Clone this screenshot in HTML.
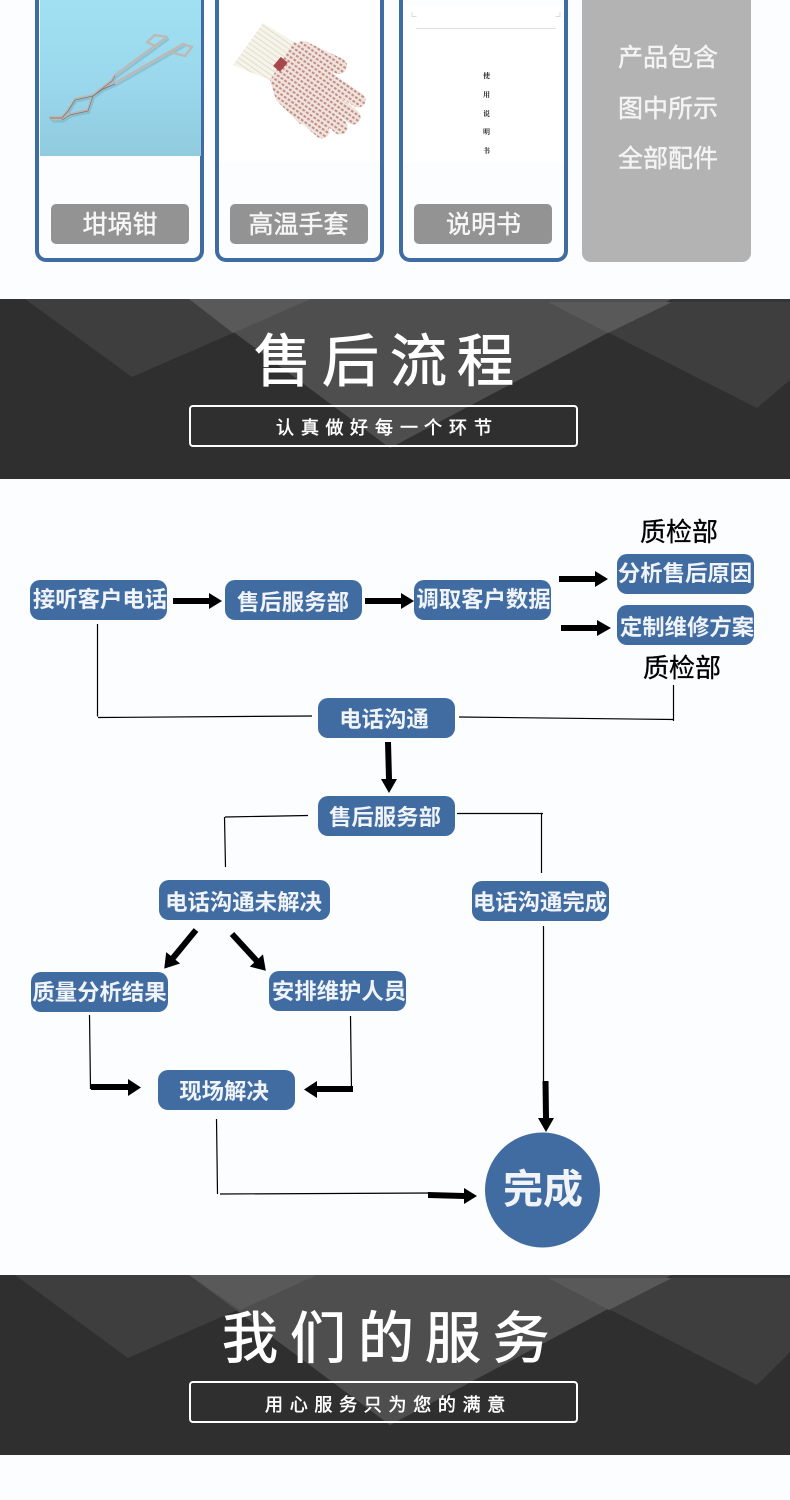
<!DOCTYPE html>
<html><head><meta charset="utf-8">
<style>
html,body{margin:0;padding:0;background:#fbfdfe}
svg{display:block}
text{font-family:"Liberation Sans","Noto Sans CJK SC",sans-serif}
.n{font-size:22.4px;font-weight:700;fill:#f0f3f8;text-anchor:middle}
.b{font-size:25px;fill:#f6f6f6;stroke:#f6f6f6;stroke-width:.45;text-anchor:middle}
.p{font-size:25px;fill:#f4f4f4;stroke:#f4f4f4;stroke-width:.45;text-anchor:middle}
.q{font-size:26px;fill:#000;stroke:#000;stroke-width:.3;text-anchor:middle}
.t{fill:#fff;stroke:#fff;stroke-width:.9}
.s{fill:#fff;stroke:#fff;stroke-width:.5}
.l{stroke:#000;stroke-width:1.2;fill:none}
</style></head><body>
<svg xmlns="http://www.w3.org/2000/svg" width="790" height="1500" viewBox="0 0 790 1500">
<defs>
<linearGradient id="sky" x1="0" y1="0" x2="0" y2="1"><stop offset="0" stop-color="#a1e0f3"/><stop offset=".55" stop-color="#9ad7ec"/><stop offset="1" stop-color="#90cbdf"/></linearGradient>
<pattern id="dots" width="4.5" height="4.5" patternUnits="userSpaceOnUse" patternTransform="rotate(35)"><rect width="4.5" height="4.5" fill="#f0e4dd"/><rect x="0" y="0.6" width="2.8" height="2" fill="#c08b82"/></pattern>
<pattern id="rib" width="4.5" height="4.5" patternUnits="userSpaceOnUse" patternTransform="rotate(35)"><rect width="4.5" height="4.5" fill="#f6f4e9"/><rect y="0" width="4.5" height="1" fill="#e0decf"/></pattern>
</defs>
<rect width="790" height="1500" fill="#fbfdfe"/>

<!-- product cards -->
<rect x="37" y="-12" width="165" height="272" rx="9" fill="#fcfdff" stroke="#3f6da3" stroke-width="4"/>
<rect x="217" y="-12" width="165" height="272" rx="9" fill="#fcfdff" stroke="#3f6da3" stroke-width="4"/>
<rect x="401" y="-12" width="165" height="272" rx="9" fill="#fcfdff" stroke="#3f6da3" stroke-width="4"/>
<rect x="582" y="-12" width="169" height="274" rx="9" fill="#b3b3b3"/>
<rect x="40" y="0" width="161" height="156" fill="url(#sky)"/>
<rect x="219" y="0" width="161" height="162" fill="#fff"/>
<rect x="403" y="5" width="161" height="158" fill="#fff"/>

<!-- tongs -->
<g fill="none" stroke-linejoin="round" stroke-linecap="round">
<g stroke="#7fb2c6" stroke-width="2.4" opacity=".6" transform="translate(1,2.5)">
<path d="M167 37L115 75L112 80L93 95L75 99L68 110L62 117L50 117"/>
<path d="M183 44L115 83L103 88L93 95L88 110L70 114L62 119L52 119"/>
</g>
<g stroke="#bdb8b4" stroke-width="2.3">
<path d="M157 47L147 42L155 35L167 37L115 75L112 80L93 95L75 99L68 110L62 117L50 117"/>
<path d="M170 52L183 44L192 47L185 56L170 52M183 44L115 83L103 88L93 95L88 110L70 114L62 119L52 119"/>
</g>
<g stroke="#77736f" stroke-width=".7">
<path d="M115 76L112 81L93 96L75 100L68 111L62 118L50 118"/>
<path d="M115 84L103 89L93 96L88 111L70 115L62 120"/>
</g>
</g>

<!-- glove -->
<polygon points="233,65 263,23 294,42 270,80 255,74" fill="url(#rib)"/>
<g fill="none" stroke="url(#dots)" stroke-linecap="round">
<path d="M303 49L339 66" stroke-width="16"/>
<path d="M325 78L358 100" stroke-width="15"/>
<path d="M318 90L353 117" stroke-width="15"/>
<path d="M308 100L340 127" stroke-width="15"/>
<path d="M296 108L322 131" stroke-width="15"/>
</g>
<polygon points="294,42 270,80 276,100 300,124 325,122 348,90 322,60" fill="url(#dots)"/>
<rect x="274" y="60" width="12" height="9" fill="#a8474a" transform="rotate(-50 280 64)"/>

<!-- manual -->
<path d="M412 12v4.500h4.500M560 12v4.500h-4.500" fill="none" stroke="#ddd" stroke-width="1"/>
<line x1="416" y1="28.500" x2="556" y2="28.500" stroke="#e0e0e0" stroke-width="1"/>
<g font-size="7" font-weight="700" text-anchor="middle" fill="#222">
<text x="486.500" y="78" style="font-family:'Liberation Serif','Noto Serif CJK SC',serif">使</text>
<text x="486.500" y="97" style="font-family:'Liberation Serif','Noto Serif CJK SC',serif">用</text>
<text x="486.500" y="116" style="font-family:'Liberation Serif','Noto Serif CJK SC',serif">说</text>
<text x="486.500" y="134" style="font-family:'Liberation Serif','Noto Serif CJK SC',serif">明</text>
<text x="486.500" y="153" style="font-family:'Liberation Serif','Noto Serif CJK SC',serif">书</text>
</g>

<rect x="51" y="204" width="138" height="40" rx="5" fill="#939393"/>
<rect x="230" y="204" width="138" height="40" rx="5" fill="#939393"/>
<rect x="414" y="204" width="138" height="40" rx="5" fill="#939393"/>
<text class="b" x="120" y="233">坩埚钳</text>
<text class="b" x="298.500" y="233">高温手套</text>
<text class="b" x="483.500" y="233">说明书</text>
<text class="p" x="668" y="66">产品包含</text>
<text class="p" x="668" y="117">图中所示</text>
<text class="p" x="668" y="167">全部配件</text>

<!-- band 1 -->
<rect x="0" y="299" width="790" height="180" fill="#302f30"/>
<rect x="672" y="299" width="118" height="3" fill="#353435"/>
<polygon points="25,299 311,299 132,377" fill="#3f3e3f"/>
<polygon points="548,302 790,302 790,380 757,408" fill="#3f3e3f"/>
<polygon points="189,299 672,299 390,448" fill="#4f4e4f"/>
<polygon points="189,299 311,299 233,333" fill="#5a595a"/>
<polygon points="548,302 672,302 608,333" fill="#5a595a"/>
<text class="t" font-size="57" x="254 322 390 457" y="381">售后流程</text>
<rect x="190" y="406" width="387" height="40" rx="3" fill="none" stroke="#fff" stroke-width="2"/>
<text class="s" font-size="18" x="276 301 325.500 350 375 400 424 449 474" y="434">认真做好每一个环节</text>

<!-- thin connectors -->
<path class="l" d="M97.500 624V716.500"/>
<path class="l" d="M98 717.500L312 716"/>
<path class="l" d="M459 717L674 719.500"/>
<path class="l" d="M673.500 685V721"/>
<path class="l" d="M225 817L308 815.500"/>
<path class="l" d="M224.500 817L225.500 867"/>
<path class="l" d="M457 813.500H543"/>
<path class="l" d="M541.500 813V873"/>
<path class="l" d="M543.500 926V1085"/>
<path class="l" d="M89.500 1015L90.500 1089"/>
<path class="l" d="M350.500 1016L351.500 1090"/>
<path class="l" d="M216.500 1119L217.500 1194"/>
<path class="l" d="M220 1194L430 1193"/>

<!-- thick arrows -->
<g fill="#000">
<polygon points="173,598 209,598 209,593 222,601 209,609 209,604 173,604"/>
<polygon points="365,598 401,598 401,593 414,601 401,609 401,604 365,604"/>
<polygon points="559,576 595,576 595,571 608,579 595,587 595,582 559,582"/>
<polygon points="561,625 597,625 597,620 611,628 597,636 597,631 561,631"/>
<polygon points="385,742 391,742 392,779 397,779 389,793 381,779 386,779"/>
<polygon points="542.500,1081 548.500,1081 549,1118 554,1118 546,1132 538,1118 543,1118"/>
<polygon points="91,1084 128,1084 128,1079 141,1087.500 128,1096 128,1090 91,1090"/>
<polygon points="353,1086 317,1086 317,1081 304,1089.500 317,1098 317,1092 353,1092"/>
<polygon points="428,1192 464,1193 464,1188 477,1196 464,1204 464,1199 428,1198"/>
<g transform="translate(196,930) rotate(129.400)"><polygon points="0,-3 36,-3 36,-9 50,0 36,9 36,3 0,3"/></g>
<g transform="translate(232,934) rotate(47.400)"><polygon points="0,-3 36,-3 36,-9 50,0 36,9 36,3 0,3"/></g>
</g>

<!-- nodes -->
<g fill="#406ca2">
<rect x="30" y="580" width="137" height="40" rx="10"/>
<rect x="225" y="580" width="137" height="40" rx="10"/>
<rect x="414" y="580" width="137" height="40" rx="10"/>
<rect x="617" y="554" width="137" height="40" rx="10"/>
<rect x="617" y="605" width="137" height="40" rx="10"/>
<rect x="318" y="698" width="137" height="40" rx="10"/>
<rect x="318" y="796" width="137" height="40" rx="10"/>
<rect x="159" y="880" width="171" height="40" rx="10"/>
<rect x="472" y="881" width="137" height="40" rx="10"/>
<rect x="31" y="972" width="137" height="40" rx="10"/>
<rect x="269" y="971" width="137" height="40" rx="10"/>
<rect x="158" y="1070" width="137" height="40" rx="10"/>
<circle cx="542.500" cy="1190" r="57.500"/>
</g>
<text class="n" x="100" y="607">接听客户电话</text>
<text class="n" x="293" y="610">售后服务部</text>
<text class="n" x="483.500" y="607">调取客户数据</text>
<text class="n" x="685" y="581">分析售后原因</text>
<text class="n" x="687" y="635">定制维修方案</text>
<text class="n" x="384" y="727">电话沟通</text>
<text class="n" x="385" y="825">售后服务部</text>
<text class="n" x="243.500" y="910">电话沟通未解决</text>
<text class="n" x="540" y="910">电话沟通完成</text>
<text class="n" x="99.500" y="1000">质量分析结果</text>
<text class="n" x="339" y="999">安排维护人员</text>
<text class="n" x="224" y="1099">现场解决</text>
<text x="543" y="1203" font-size="40" font-weight="700" fill="#f0f3f8" text-anchor="middle">完成</text>
<text class="q" x="679" y="541">质检部</text>
<text class="q" x="682" y="677">质检部</text>

<!-- band 2 -->
<rect x="0" y="1275" width="790" height="180" fill="#302f30"/>
<rect x="672" y="1275" width="118" height="3" fill="#353435"/>
<polygon points="15,1275 317,1275 128,1358" fill="#3f3e3f"/>
<polygon points="548,1278 790,1278 790,1352 757,1385" fill="#3f3e3f"/>
<polygon points="189,1275 672,1275 390,1425" fill="#4f4e4f"/>
<polygon points="189,1275 317,1275 240,1310" fill="#5a595a"/>
<polygon points="548,1278 672,1278 609,1310" fill="#5a595a"/>
<text class="t" font-size="56" x="222 290 358 425 493" y="1358">我们的服务</text>
<rect x="190" y="1382" width="387" height="40" rx="3" fill="none" stroke="#fff" stroke-width="2"/>
<text class="s" font-size="18" x="265 289.700 314.400 339.100 363.800 388.500 413.200 437.900 462.600 487.300" y="1411">用心服务只为您的满意</text>
</svg>
</body></html>
